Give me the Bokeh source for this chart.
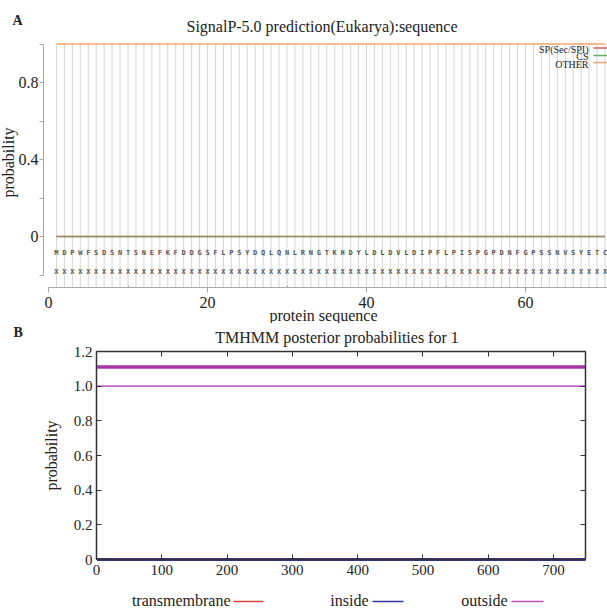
import math
from bokeh.plotting import figure
from bokeh.models import (FixedTicker, Label, LinearAxis, Range1d,
                          ColumnDataSource, CustomJSTickFormatter)
from bokeh.core.properties import value
from bokeh.embed import file_html
from bokeh.resources import INLINE

# ---------------- data: panel A (SignalP-5.0) ----------------
residues = list("MDPWFSDSNTSNEFKFDDGSFLPSYDQLQNLRNGTKHDYLDLDVLDIPFLPISPGPDNFGPSSNVSYETC")
positions = list(range(1, len(residues) + 1))
sp_prob = [0.0] * len(residues)       # SP(Sec/SPI)
cs_prob = [0.0] * len(residues)       # CS
other_prob = [1.0] * len(residues)    # OTHER
x_marks = ["X"] * len(residues)
a_xticks = [0, 20, 40, 60]
a_xminor = [10, 30, 50]
a_yticks = [0, 0.4, 0.8]
a_yminor = [-0.2, 0.2, 0.6, 1.0]
a_legend = ["SP(Sec/SPI)", "CS", "OTHER"]
a_colors = ["#e05a66", "#62b062", "#f2a56e"]

# ---------------- data: panel B (TMHMM) ----------------
tm_pos = [1, 749]
tm_trans = [0.0, 0.0]
tm_inside = [0.0, 0.0]
tm_outside = [1.0, 1.0]
topology_outside = [1, 749]           # predicted "outside" region
b_xticks = [0, 100, 200, 300, 400, 500, 600, 700]
b_yticks = [0, 0.2, 0.4, 0.6, 0.8, 1.0, 1.2]
b_legend = ["transmembrane", "inside", "outside"]
b_colors = ["#d94545", "#34349e", "#c04cc0"]

SERIF = "Liberation Serif"
W = 607
HA, HB = 323, 289            # panel heights (page is 612 tall)


def num_fmt():
    return CustomJSTickFormatter(code="return tick == 0 ? '0' : tick.toFixed(1);")


def blank_fmt():
    return CustomJSTickFormatter(code="return '';")


def label(p, x, y, text, size, align="center", baseline="alphabetic",
          angle=0.0, bold=False, color="#222222", font=SERIF):
    p.add_layout(Label(x=x, y=y, text=text, text_font=font,
                       text_font_size=f"{size}px", text_align=align,
                       text_baseline=baseline, angle=angle,
                       text_font_style="bold" if bold else "normal",
                       text_color=color))


# ================= Panel A =================
# page-pixel -> data mapping of panel A (page origin top-left)
def xA(px):
    return (px - 48.0) / 7.95


def yA(py):
    return (236.0 - py) / 192.5


A_AXIS_X = xA(43)     # where the y axis is drawn
A_AXIS_Y = yA(287)    # where the x axis is drawn

pa = figure(width=W, height=HA, output_backend="svg", toolbar_location=None,
            title=None, x_range=Range1d(xA(0), xA(W)), y_range=Range1d(yA(HA), yA(0)),
            x_axis_location=None, y_axis_location=None,
            min_border=0, min_border_left=0, min_border_right=0,
            min_border_top=0, min_border_bottom=0)
pa.outline_line_color = None
pa.xgrid.grid_line_color = None
pa.ygrid.grid_line_color = None

ax_a_x = LinearAxis(fixed_location=A_AXIS_Y, bounds=(0, xA(W)),
                    ticker=FixedTicker(ticks=a_xticks, minor_ticks=a_xminor))
ax_a_y = LinearAxis(fixed_location=A_AXIS_X, bounds=(-0.2, 1.0),
                    ticker=FixedTicker(ticks=a_yticks, minor_ticks=a_yminor),
                    formatter=num_fmt())
for ax in (ax_a_x, ax_a_y):
    ax.axis_line_color = "#a8a8a8"
    ax.major_tick_line_color = "#a8a8a8"
    ax.minor_tick_line_color = "#a8a8a8"
    ax.major_tick_out = 5
    ax.major_tick_in = 0
    ax.major_label_text_font = SERIF
    ax.major_label_text_font_size = "16px"
    ax.major_label_text_color = "#222222"
ax_a_x.major_label_standoff = 4
ax_a_y.major_label_standoff = 1
ax_a_y.major_tick_out = 4
ax_a_y.minor_tick_out = 4
ax_a_y.minor_tick_in = 0
ax_a_x.minor_tick_out = 0
ax_a_x.minor_tick_in = 2
pa.add_layout(ax_a_x, "below")
pa.add_layout(ax_a_y, "left")

# residue guide lines
seq_src = ColumnDataSource(dict(pos=positions, res=residues, mark=x_marks))
pa.segment(x0="pos", y0=A_AXIS_Y, x1="pos", y1=1.0, source=seq_src,
           line_color="#d6d6d6", line_width=1)

# probability lines
pa.line(positions, sp_prob, line_color=a_colors[0], line_width=1.5)
pa.line(positions, cs_prob, line_color=a_colors[1], line_width=1.5, line_alpha=0.65)
pa.line(positions, other_prob, line_color=a_colors[2], line_width=1.5)

# sequence rows
for col, ypx in (("res", 252), ("mark", 271)):
    pa.text(x="pos", y=yA(ypx), text=col, source=seq_src,
            text_font=value("DejaVu Sans Mono"), text_font_size="7px",
            text_font_style="bold", text_color="#555555",
            text_align="center", text_baseline="middle")

label(pa, xA(321.5), yA(26), "SignalP-5.0 prediction(Eukarya):sequence", 16)
label(pa, xA(12), yA(20), "A", 14, align="left", bold=True)
label(pa, xA(8), yA(162), "probability", 16, angle=math.pi / 2)
label(pa, xA(323), yA(314.5), "protein sequence", 16)

# legend (panel A)
for name, col, ty, ly in zip(a_legend, a_colors, [49, 56, 64], [47.5, 55, 62]):
    label(pa, xA(588), yA(ty), name, 10, align="right")
    pa.segment(x0=xA(593), y0=yA(ly), x1=xA(607), y1=yA(ly),
               line_color=col, line_width=1.5)


# ================= Panel B =================
# page-pixel -> data mapping of panel B (page coordinates, panel starts at HA)
def xB(px):
    return (px - 96.0) / 0.6529


def yB(py):
    return (559.0 - py) / 173.33


pb = figure(width=W, height=HB, output_backend="svg", toolbar_location=None,
            title=None, x_range=Range1d(xB(0), xB(W)), y_range=Range1d(yB(612), yB(HA)),
            x_axis_location=None, y_axis_location=None,
            min_border=0, min_border_left=0, min_border_right=0,
            min_border_top=0, min_border_bottom=0)
pb.outline_line_color = None
pb.xgrid.grid_line_color = None
pb.ygrid.grid_line_color = None

XMAX, YMAX = 749, 1.2
ax_b_bottom = LinearAxis(fixed_location=0, bounds=(0, XMAX),
                         ticker=FixedTicker(ticks=b_xticks, minor_ticks=[]))
ax_b_left = LinearAxis(fixed_location=0, bounds=(0, YMAX),
                       ticker=FixedTicker(ticks=b_yticks, minor_ticks=[]),
                       formatter=num_fmt())
ax_b_top = LinearAxis(fixed_location=YMAX, bounds=(0, XMAX),
                      ticker=FixedTicker(ticks=b_xticks, minor_ticks=[]),
                      formatter=blank_fmt())
ax_b_right = LinearAxis(fixed_location=XMAX, bounds=(0, YMAX),
                        ticker=FixedTicker(ticks=b_yticks, minor_ticks=[]),
                        formatter=blank_fmt())
for ax in (ax_b_bottom, ax_b_left, ax_b_top, ax_b_right):
    ax.axis_line_color = "#333333"
    ax.axis_line_width = 1.5
    ax.major_tick_line_color = "#333333"
    ax.major_tick_in = 5
    ax.major_tick_out = 0
    ax.minor_tick_line_color = None
    ax.major_label_text_font = SERIF
    ax.major_label_text_font_size = "15px"
    ax.major_label_text_color = "#222222"
ax_b_bottom.major_label_standoff = 5
ax_b_left.major_label_standoff = 4
pb.add_layout(ax_b_bottom, "below")
pb.add_layout(ax_b_left, "left")
pb.add_layout(ax_b_top, "above")
pb.add_layout(ax_b_right, "right")

pb.line(tm_pos, tm_trans, line_color=b_colors[0], line_width=2)
pb.line(tm_pos, tm_inside, line_color=b_colors[1], line_width=3)
pb.line(tm_pos, tm_outside, line_color="#c466c8", line_width=1.6)
pb.line(topology_outside, [1.11, 1.11], line_color="#a436a8", line_width=3.5)

label(pb, xB(336.5), yB(337), "TMHMM posterior probabilities for 1", 16)
label(pb, xB(13), yB(331.5), "B", 14, align="left", bold=True)
label(pb, xB(51), yB(455), "probability", 16, angle=math.pi / 2)

for name, col, tx, (lx0, lx1) in zip(b_legend, b_colors, [230, 368, 507],
                                     [(233, 263), (372, 403), (511, 543)]):
    label(pb, xB(tx), yB(600), name, 16, align="right")
    pb.segment(x0=xB(lx0), y0=yB(601), x1=xB(lx1), y1=yB(601),
               line_color=col, line_width=1.5)

open("out.html", "w").write(file_html([pa, pb], INLINE))
